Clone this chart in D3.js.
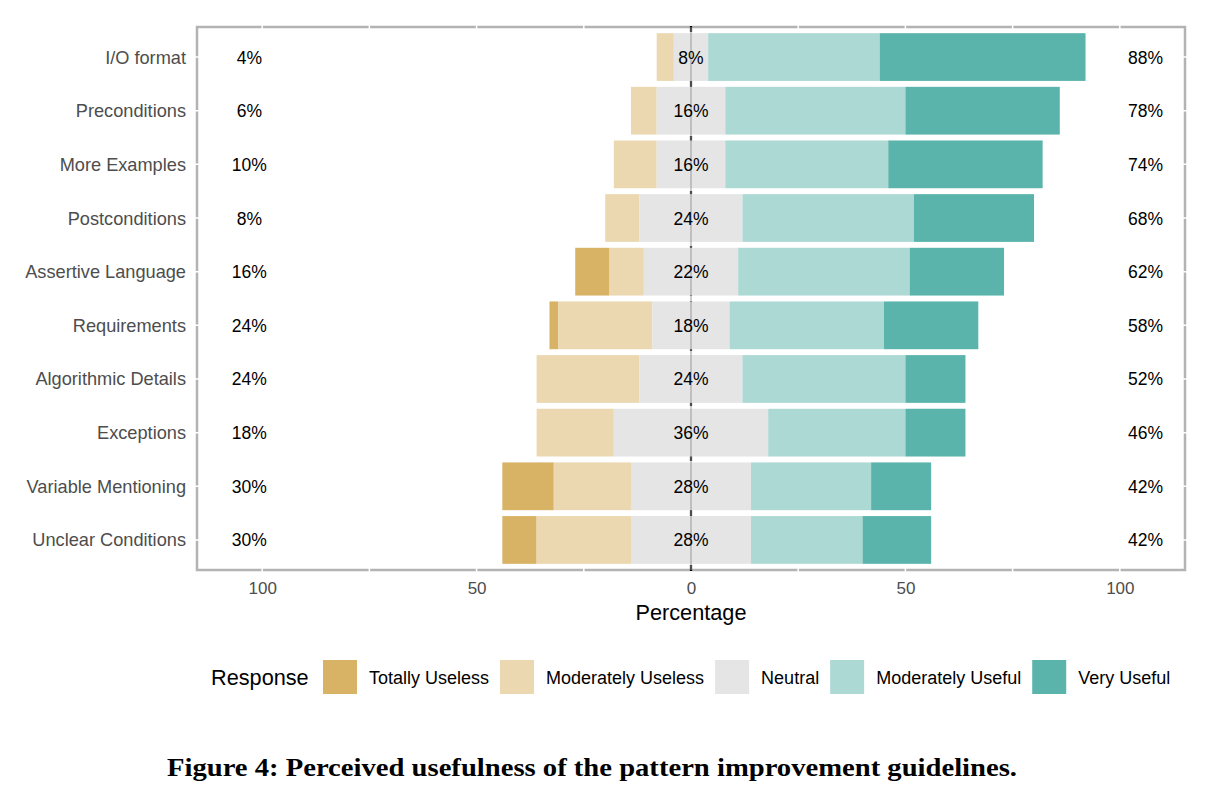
<!DOCTYPE html>
<html>
<head>
<meta charset="utf-8">
<script src="https://cdn.jsdelivr.net/npm/d3@7"></script>
<style>
  body { margin: 0; background: #fff; }
  svg { display: block; }
</style>
</head>
<body>
<svg width="1211" height="797"></svg>
<script>
// guidelines, top to bottom
const categories = ["I/O format", "Preconditions", "More Examples", "Postconditions",
  "Assertive Language", "Requirements", "Algorithmic Details", "Exceptions",
  "Variable Mentioning", "Unclear Conditions"];

const levels = ["Totally Useless", "Moderately Useless", "Neutral", "Moderately Useful", "Very Useful"];
const colors = ["#d8b365", "#ebd8b0", "#e5e5e5", "#acd9d4", "#5ab4ac"];

// percentages per level, same order as categories
const totallyUseless    = [0, 0, 0, 0, 8, 2, 0, 0, 12, 8];
const moderatelyUseless = [4, 6, 10, 8, 8, 22, 24, 18, 18, 22];
const neutral           = [8, 16, 16, 24, 22, 18, 24, 36, 28, 28];
const moderatelyUseful  = [40, 42, 38, 40, 40, 36, 38, 32, 28, 26];
const veryUseful        = [48, 36, 36, 28, 22, 22, 14, 14, 14, 16];

const xTicks = [-100, -50, 0, 50, 100];
const xMinor = [-75, -25, 25, 75];

const svg = d3.select("svg");
const pLeft = 197, pRight = 1185, pTop = 27, pBottom = 570;
const sans = "Liberation Sans, Arial, sans-serif";

const x = d3.scaleLinear().domain([-115.2, 115.2]).range([pLeft, pRight]);
const y = d3.scaleBand().domain(categories).range([pTop, pBottom])
  .paddingInner(0.11).paddingOuter(0.115);

// build segments: start at -(useless + neutral/2)
const rows = categories.map((c, i) => {
  const vals = [totallyUseless[i], moderatelyUseless[i], neutral[i], moderatelyUseful[i], veryUseful[i]];
  let start = -(vals[0] + vals[1] + vals[2] / 2);
  const segs = vals.map((v, k) => {
    const s = { cat: c, level: k, x0: start, x1: start + v };
    start += v;
    return s;
  });
  return { cat: c, segs: segs, low: vals[0] + vals[1], mid: vals[2], high: vals[3] + vals[4] };
});

// panel border
svg.append("rect")
  .attr("x", pLeft).attr("y", pTop)
  .attr("width", pRight - pLeft).attr("height", pBottom - pTop)
  .attr("fill", "none").attr("stroke", "#b3b3b3").attr("stroke-width", 2.5);

// white grid lines (only visible where they cross the border)
const grid = svg.append("g").attr("stroke", "#fff").attr("stroke-width", 1.5);
grid.selectAll(".gx").data(xTicks.concat(xMinor)).enter().append("line")
  .attr("x1", d => x(d)).attr("x2", d => x(d))
  .attr("y1", pTop - 2).attr("y2", pBottom + 2);
grid.selectAll(".gy").data(categories).enter().append("line")
  .attr("y1", d => y(d) + y.bandwidth() / 2).attr("y2", d => y(d) + y.bandwidth() / 2)
  .attr("x1", pLeft - 2).attr("x2", pRight + 2);

// dashed zero line under the bars
svg.append("line")
  .attr("x1", x(0)).attr("x2", x(0)).attr("y1", pTop - 1).attr("y2", pBottom + 1)
  .attr("stroke", "#000").attr("stroke-width", 2.2).attr("stroke-dasharray", "6,5");

// bars
svg.append("g").selectAll("g").data(rows).enter().append("g")
  .selectAll("rect").data(d => d.segs.filter(s => s.x1 > s.x0)).enter().append("rect")
  .attr("x", d => x(d.x0))
  .attr("width", d => x(d.x1) - x(d.x0))
  .attr("y", d => y(d.cat))
  .attr("height", y.bandwidth())
  .attr("fill", d => colors[d.level]);

// thin seam at zero over the bars
svg.append("line")
  .attr("x1", x(0)).attr("x2", x(0)).attr("y1", pTop).attr("y2", pBottom)
  .attr("stroke", "#999").attr("stroke-width", 1);

// percentage labels
const lab = svg.append("g").attr("font-family", sans)
  .attr("font-size", 17.5).attr("fill", "#000").attr("text-anchor", "middle");
rows.forEach(r => {
  const cy = y(r.cat) + y.bandwidth() / 2 + 6.5;
  lab.append("text").attr("x", x(-103)).attr("y", cy).text(r.low + "%");
  lab.append("text").attr("x", x(0)).attr("y", cy).text(r.mid + "%");
  lab.append("text").attr("x", x(106)).attr("y", cy).text(r.high + "%");
});

// y axis labels
svg.append("g").selectAll("text").data(categories).enter().append("text")
  .attr("x", 186).attr("y", d => y(d) + y.bandwidth() / 2 + 6.5)
  .attr("text-anchor", "end")
  .attr("font-family", sans)
  .attr("font-size", 18.2).attr("fill", "#4d4d4d")
  .text(d => d);

// x axis
const xAxis = svg.append("g").attr("transform", `translate(0,${pBottom})`)
  .call(d3.axisBottom(x).tickValues(xTicks).tickSize(0).tickPadding(12)
    .tickFormat(d => Math.abs(d)));
xAxis.select(".domain").remove();
xAxis.selectAll("text")
  .attr("font-family", sans)
  .attr("font-size", 17).attr("fill", "#4d4d4d");

svg.append("text")
  .attr("x", x(0)).attr("y", 620).attr("text-anchor", "middle")
  .attr("font-family", sans)
  .attr("font-size", 21.7).attr("fill", "#000")
  .text("Percentage");

// legend
const legend = svg.append("g").attr("font-family", sans);
legend.append("text").attr("x", 211).attr("y", 685)
  .attr("font-size", 21.7).text("Response");
let lx = 323;
levels.forEach((lv, k) => {
  legend.append("rect").attr("x", lx).attr("y", 660).attr("width", 34).attr("height", 34)
    .attr("fill", colors[k]);
  const t = legend.append("text").attr("x", lx + 46).attr("y", 683.5)
    .attr("font-size", 18).text(lv);
  lx = lx + 46 + t.node().getComputedTextLength() + 11;
});

// caption
svg.append("text")
  .attr("x", 592).attr("y", 776).attr("text-anchor", "middle")
  .attr("font-family", "Liberation Serif, DejaVu Serif, serif")
  .attr("font-weight", "bold").attr("font-size", 25)
  .attr("textLength", 850).attr("lengthAdjust", "spacingAndGlyphs")
  .text("Figure 4: Perceived usefulness of the pattern improvement guidelines.");
</script>
</body>
</html>
